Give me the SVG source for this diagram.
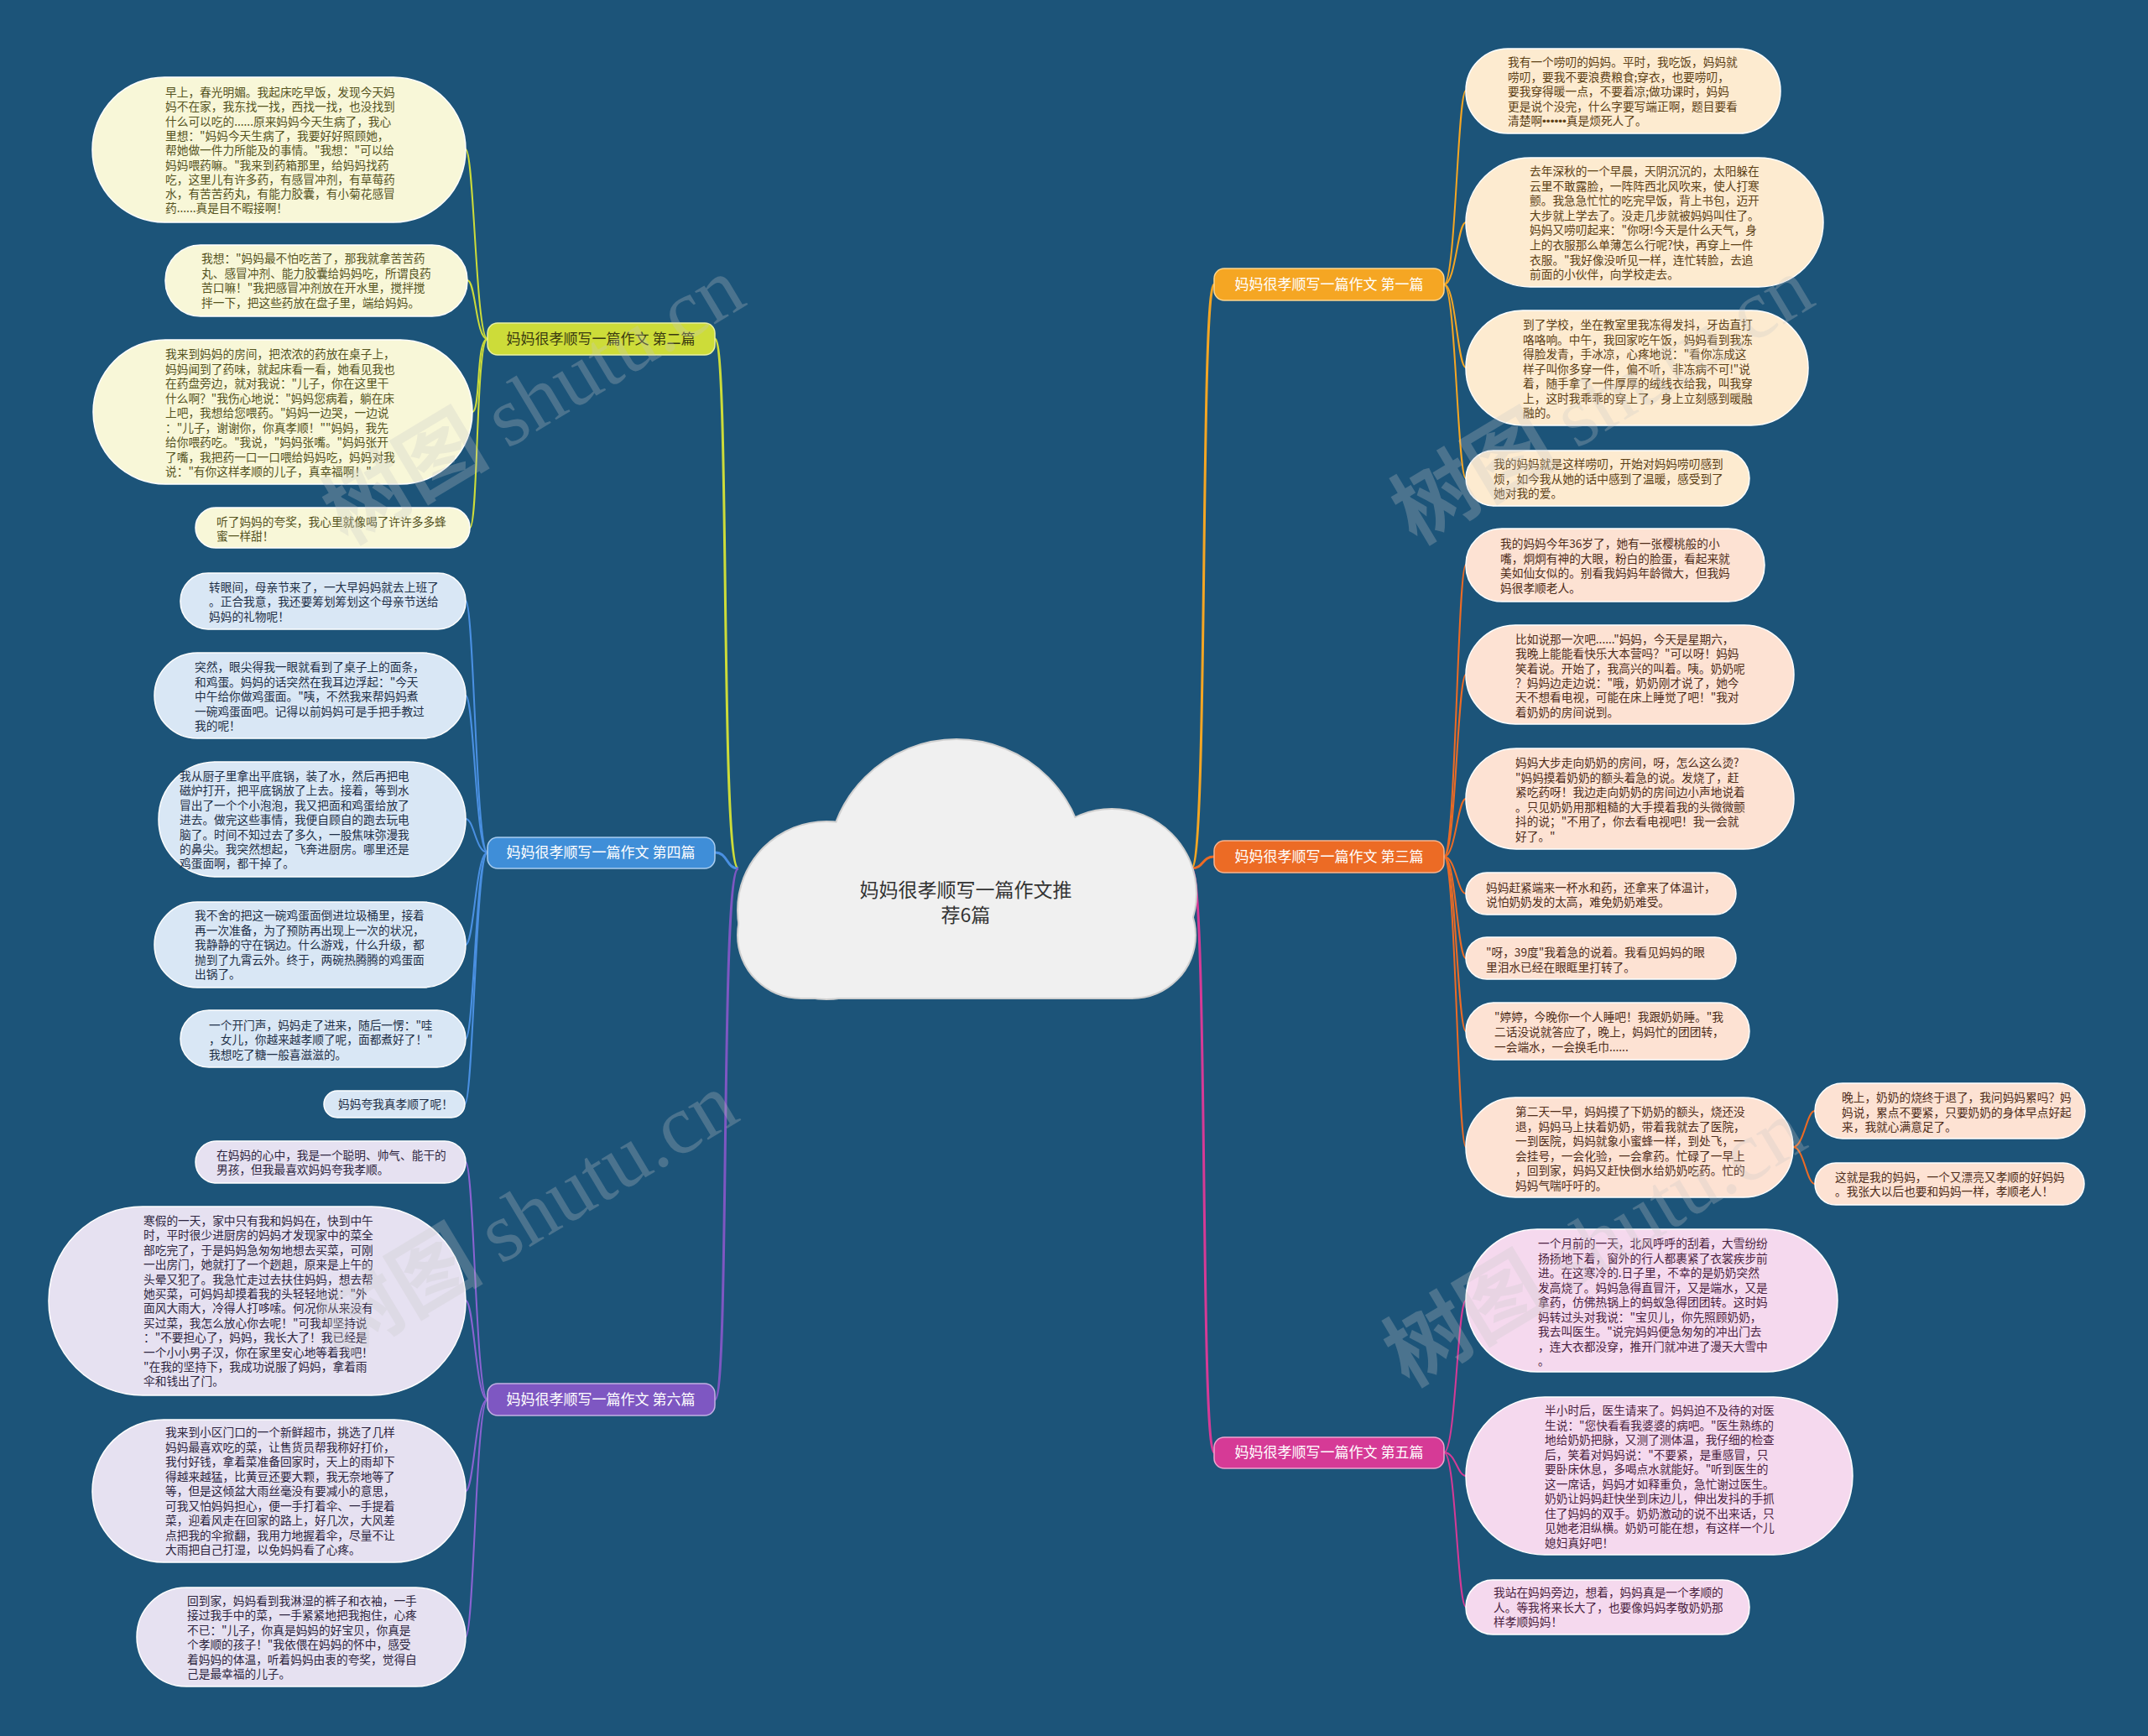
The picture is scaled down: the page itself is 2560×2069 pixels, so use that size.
<svg xmlns="http://www.w3.org/2000/svg" width="2560" height="2069" viewBox="0 0 2560 2069">
<style>
.t{font-family:"Noto Sans CJK SC","Noto Sans",sans-serif;font-size:13.7px}
.br{font-family:"Noto Sans CJK SC","Noto Sans",sans-serif;font-size:17px;fill:#fff;text-anchor:middle}
.lf{stroke:#ffffff;stroke-width:1.5}
.y{fill:#f8f7d8}.ty{fill:#55531e}
.b{fill:#d9e7f5}.tb{fill:#1e2f47}
.p{fill:#e6e1f1}.tp{fill:#2d2540}
.o{fill:#fdebd0}.to{fill:#5c4015}
.r{fill:#fde2d3}.tr{fill:#4f2d1a}
.m{fill:#f5d9ee}.tm{fill:#4a1f40}
.c{fill:none;stroke-width:2}
.cb{fill:none;stroke-width:3}
.wm{fill:#c8c8c8;opacity:0.27;font-size:100px}
</style>
<defs>
<g id="cloudShape">
<circle cx="1140" cy="1035" r="153"/>
<circle cx="985" cy="1085" r="105"/>
<circle cx="1325" cy="1065" r="100"/>
<rect x="880" y="1040" width="544" height="149" rx="75"/>
</g>
</defs>
<rect width="2560" height="2069" fill="#1c5479"/>

<g id="connectors">
<path class="cb" stroke="#cddc39" d="M880 1035 C858 1035 870 404 852 404"/>
<path class="cb" stroke="#4a90e2" d="M880 1035 C865 1035 868 1016 852 1016"/>
<path class="cb" stroke="#7e57c2" d="M880 1035 C858 1035 870 1668 852 1668"/>
<path class="cb" stroke="#f5a623" d="M1420 1035 C1440 1035 1430 339 1447 339"/>
<path class="cb" stroke="#ec6b25" d="M1420 1035 C1435 1035 1432 1021 1447 1021"/>
<path class="cb" stroke="#d63a96" d="M1420 1035 C1440 1035 1430 1731 1447 1731"/>

<g stroke="#cddc39">
<path class="c" d="M581 404 C567 404 565 178 555 178"/>
<path class="c" d="M581 404 C567 404 567 334 557 334"/>
<path class="c" d="M581 404 C567 404 573 491 563 491"/>
<path class="c" d="M581 404 C567 404 570 629 560 629"/>
</g>
<g stroke="#4a90e2">
<path class="c" d="M581 1016 C567 1016 565 716 555 716"/>
<path class="c" d="M581 1016 C567 1016 565 829 555 829"/>
<path class="c" d="M581 1016 C567 1016 565 976 555 976"/>
<path class="c" d="M581 1016 C567 1016 565 1126 555 1126"/>
<path class="c" d="M581 1016 C567 1016 565 1238 555 1238"/>
<path class="c" d="M581 1016 C567 1016 564 1316 554 1316"/>
</g>
<g stroke="#8a63d2">
<path class="c" d="M581 1668 C567 1668 565 1385 555 1385"/>
<path class="c" d="M581 1668 C567 1668 565 1550 555 1550"/>
<path class="c" d="M581 1668 C567 1668 565 1777 555 1777"/>
<path class="c" d="M581 1668 C567 1668 565 1951 555 1951"/>
</g>
<g stroke="#f5a623">
<path class="c" d="M1721 339 C1735 339 1737 108 1747 108"/>
<path class="c" d="M1721 339 C1735 339 1737 265 1747 265"/>
<path class="c" d="M1721 339 C1735 339 1737 438 1747 438"/>
<path class="c" d="M1721 339 C1735 339 1737 570 1747 570"/>
</g>
<g stroke="#ec6b25">
<path class="c" d="M1721 1021 C1735 1021 1737 673 1747 673"/>
<path class="c" d="M1721 1021 C1735 1021 1737 804 1747 804"/>
<path class="c" d="M1721 1021 C1735 1021 1737 952 1747 952"/>
<path class="c" d="M1721 1021 C1735 1021 1737 1065 1747 1065"/>
<path class="c" d="M1721 1021 C1735 1021 1737 1142 1747 1142"/>
<path class="c" d="M1721 1021 C1735 1021 1737 1229 1747 1229"/>
<path class="c" d="M1721 1021 C1735 1021 1737 1367 1747 1367"/>
<path class="c" d="M2137 1367 C2150 1367 2153 1324 2163 1324"/>
<path class="c" d="M2137 1367 C2150 1367 2153 1411 2163 1411"/>
</g>
<g stroke="#d63a96">
<path class="c" d="M1721 1731 C1735 1731 1737 1550 1747 1550"/>
<path class="c" d="M1721 1731 C1735 1731 1737 1759 1747 1759"/>
<path class="c" d="M1721 1731 C1735 1731 1737 1915 1747 1915"/>
</g>
</g>

<g id="root">
<use href="#cloudShape" fill="#f0f0f0" stroke="#d0d0d0" stroke-width="4"/>
<use href="#cloudShape" fill="#f0f0f0"/>
<text font-family="Noto Sans CJK SC, sans-serif" font-size="23" fill="#333" text-anchor="middle"><tspan x="1151" y="1069">妈妈很孝顺写一篇作文推</tspan><tspan x="1151" y="1099">荐6篇</tspan></text>
</g>

<g id="branch-2"><rect x="581" y="385" width="271" height="38" rx="12" fill="#cddc39" stroke="#e8f0a0" stroke-width="1.5"/><text class="br" x="716" y="410" style="fill:#3a3a10">妈妈很孝顺写一篇作文 第二篇</text></g>
<g id="branch-4"><rect x="581" y="998" width="271" height="37" rx="12" fill="#3f8ed8" stroke="#a9cdf0" stroke-width="1.5"/><text class="br" x="716" y="1022">妈妈很孝顺写一篇作文 第四篇</text></g>
<g id="branch-6"><rect x="581" y="1649" width="271" height="38" rx="12" fill="#7e57c2" stroke="#c2b0e4" stroke-width="1.5"/><text class="br" x="716" y="1674">妈妈很孝顺写一篇作文 第六篇</text></g>
<g id="branch-1"><rect x="1447" y="320" width="274" height="38" rx="12" fill="#f5a623" stroke="#fbd58f" stroke-width="1.5"/><text class="br" x="1584" y="345">妈妈很孝顺写一篇作文 第一篇</text></g>
<g id="branch-3"><rect x="1447" y="1002" width="274" height="38" rx="12" fill="#ec6b25" stroke="#f7b48f" stroke-width="1.5"/><text class="br" x="1584" y="1027">妈妈很孝顺写一篇作文 第三篇</text></g>
<g id="branch-5"><rect x="1447" y="1713" width="274" height="37" rx="12" fill="#d63a96" stroke="#eea4cf" stroke-width="1.5"/><text class="br" x="1584" y="1737">妈妈很孝顺写一篇作文 第五篇</text></g>

<g id="n2-1"><rect class="lf y" x="110" y="92" width="445" height="173" rx="86"/><text class="t ty"><tspan x="197" y="115">早上，春光明媚。我起床吃早饭，发现今天妈</tspan><tspan x="197" dy="17.3">妈不在家，我东找一找，西找一找，也没找到</tspan><tspan x="197" dy="17.3">什么可以吃的......原来妈妈今天生病了，我心</tspan><tspan x="197" dy="17.3">里想："妈妈今天生病了，我要好好照顾她，</tspan><tspan x="197" dy="17.3">帮她做一件力所能及的事情。"我想："可以给</tspan><tspan x="197" dy="17.3">妈妈喂药嘛。"我来到药箱那里，给妈妈找药</tspan><tspan x="197" dy="17.3">吃，这里儿有许多药，有感冒冲剂，有草莓药</tspan><tspan x="197" dy="17.3">水，有苦苦药丸，有能力胶囊，有小菊花感冒</tspan><tspan x="197" dy="17.3">药......真是目不暇接啊！</tspan></text></g>
<g id="n2-2"><rect class="lf y" x="197" y="292" width="360" height="85" rx="42"/><text class="t ty"><tspan x="240" y="313">我想："妈妈最不怕吃苦了，那我就拿苦苦药</tspan><tspan x="240" dy="17.6">丸、感冒冲剂、能力胶囊给妈妈吃，所谓良药</tspan><tspan x="240" dy="17.6">苦口嘛！"我把感冒冲剂放在开水里，搅拌搅</tspan><tspan x="240" dy="17.6">拌一下，把这些药放在盘子里，端给妈妈。</tspan></text></g>
<g id="n2-3"><rect class="lf y" x="111" y="405" width="452" height="172" rx="86"/><text class="t ty"><tspan x="197" y="427">我来到妈妈的房间，把浓浓的药放在桌子上，</tspan><tspan x="197" dy="17.5">妈妈闻到了药味，就起床看一看，她看见我也</tspan><tspan x="197" dy="17.5">在药盘旁边，就对我说："儿子，你在这里干</tspan><tspan x="197" dy="17.5">什么啊？"我伤心地说："妈妈您病着，躺在床</tspan><tspan x="197" dy="17.5">上吧，我想给您喂药。"妈妈一边哭，一边说</tspan><tspan x="197" dy="17.5">："儿子，谢谢你，你真孝顺！""妈妈，我先</tspan><tspan x="197" dy="17.5">给你喂药吃。"我说，"妈妈张嘴。"妈妈张开</tspan><tspan x="197" dy="17.5">了嘴，我把药一口一口喂给妈妈吃，妈妈对我</tspan><tspan x="197" dy="17.5">说："有你这样孝顺的儿子，真幸福啊！"</tspan></text></g>
<g id="n2-4"><rect class="lf y" x="233" y="605" width="327" height="48" rx="24"/><text class="t ty"><tspan x="258" y="627">听了妈妈的夸奖，我心里就像喝了许许多多蜂</tspan><tspan x="258" dy="16.7">蜜一样甜！</tspan></text></g>

<g id="n4-1"><rect class="lf b" x="215" y="683" width="340" height="67" rx="33"/><text class="t tb"><tspan x="249" y="705">转眼间，母亲节来了，一大早妈妈就去上班了</tspan><tspan x="249" dy="17.4">。正合我意，我还要筹划筹划这个母亲节送给</tspan><tspan x="249" dy="17.4">妈妈的礼物呢！</tspan></text></g>
<g id="n4-2"><rect class="lf b" x="184" y="778" width="371" height="102" rx="51"/><text class="t tb"><tspan x="232" y="800">突然，眼尖得我一眼就看到了桌子上的面条，</tspan><tspan x="232" dy="17.5">和鸡蛋。妈妈的话突然在我耳边浮起："今天</tspan><tspan x="232" dy="17.5">中午给你做鸡蛋面。"咦，不然我来帮妈妈煮</tspan><tspan x="232" dy="17.5">一碗鸡蛋面吧。记得以前妈妈可是手把手教过</tspan><tspan x="232" dy="17.5">我的呢！</tspan></text></g>
<g id="n4-3"><rect class="lf b" x="189" y="908" width="366" height="137" rx="68"/><text class="t tb"><tspan x="214" y="930">我从厨子里拿出平底锅，装了水，然后再把电</tspan><tspan x="214" dy="17.4">磁炉打开，把平底锅放了上去。接着，等到水</tspan><tspan x="214" dy="17.4">冒出了一个个小泡泡，我又把面和鸡蛋给放了</tspan><tspan x="214" dy="17.4">进去。做完这些事情，我便自顾自的跑去玩电</tspan><tspan x="214" dy="17.4">脑了。时间不知过去了多久，一股焦味弥漫我</tspan><tspan x="214" dy="17.4">的鼻尖。我突然想起，飞奔进厨房。哪里还是</tspan><tspan x="214" dy="17.4">鸡蛋面啊，都干掉了。</tspan></text></g>
<g id="n4-4"><rect class="lf b" x="184" y="1075" width="371" height="102" rx="51"/><text class="t tb"><tspan x="232" y="1096">我不舍的把这一碗鸡蛋面倒进垃圾桶里，接着</tspan><tspan x="232" dy="17.5">再一次准备，为了预防再出现上一次的状况，</tspan><tspan x="232" dy="17.5">我静静的守在锅边。什么游戏，什么升级，都</tspan><tspan x="232" dy="17.5">抛到了九霄云外。终于，两碗热腾腾的鸡蛋面</tspan><tspan x="232" dy="17.5">出锅了。</tspan></text></g>
<g id="n4-5"><rect class="lf b" x="215" y="1204" width="340" height="68" rx="34"/><text class="t tb"><tspan x="249" y="1227">一个开门声，妈妈走了进来，随后一愣："哇</tspan><tspan x="249" dy="17.4">，女儿，你越来越孝顺了呢，面都煮好了！"</tspan><tspan x="249" dy="17.4">我想吃了糖一般喜滋滋的。</tspan></text></g>
<g id="n4-6"><rect class="lf b" x="386" y="1300" width="168" height="32" rx="16"/><text class="t tb"><tspan x="403" y="1321">妈妈夸我真孝顺了呢！</tspan></text></g>

<g id="n6-1"><rect class="lf p" x="233" y="1360" width="322" height="50" rx="25"/><text class="t tp"><tspan x="258" y="1382">在妈妈的心中，我是一个聪明、帅气、能干的</tspan><tspan x="258" dy="17.3">男孩，但我最喜欢妈妈夸我孝顺。</tspan></text></g>
<g id="n6-2"><rect class="lf p" x="58" y="1438" width="497" height="225" rx="112"/><text class="t tp"><tspan x="171" y="1460">寒假的一天，家中只有我和妈妈在，快到中午</tspan><tspan x="171" dy="17.4">时，平时很少进厨房的妈妈才发现家中的菜全</tspan><tspan x="171" dy="17.4">部吃完了，于是妈妈急匆匆地想去买菜，可刚</tspan><tspan x="171" dy="17.4">一出房门，她就打了一个趔趄，原来是上午的</tspan><tspan x="171" dy="17.4">头晕又犯了。我急忙走过去扶住妈妈，想去帮</tspan><tspan x="171" dy="17.4">她买菜，可妈妈却摸着我的头轻轻地说："外</tspan><tspan x="171" dy="17.4">面风大雨大，冷得人打哆嗦。何况你从来没有</tspan><tspan x="171" dy="17.4">买过菜，我怎么放心你去呢！"可我却坚持说</tspan><tspan x="171" dy="17.4">："不要担心了，妈妈，我长大了！我已经是</tspan><tspan x="171" dy="17.4">一个小小男子汉，你在家里安心地等着我吧！</tspan><tspan x="171" dy="17.4">"在我的坚持下，我成功说服了妈妈，拿着雨</tspan><tspan x="171" dy="17.4">伞和钱出了门。</tspan></text></g>
<g id="n6-3"><rect class="lf p" x="110" y="1692" width="445" height="170" rx="85"/><text class="t tp"><tspan x="197" y="1712">我来到小区门口的一个新鲜超市，挑选了几样</tspan><tspan x="197" dy="17.5">妈妈最喜欢吃的菜，让售货员帮我称好打价，</tspan><tspan x="197" dy="17.5">我付好钱，拿着菜准备回家时，天上的雨却下</tspan><tspan x="197" dy="17.5">得越来越猛，比黄豆还要大颗，我无奈地等了</tspan><tspan x="197" dy="17.5">等，但是这倾盆大雨丝毫没有要减小的意思，</tspan><tspan x="197" dy="17.5">可我又怕妈妈担心，便一手打着伞、一手提着</tspan><tspan x="197" dy="17.5">菜，迎着风走在回家的路上，好几次，大风差</tspan><tspan x="197" dy="17.5">点把我的伞掀翻，我用力地握着伞，尽量不让</tspan><tspan x="197" dy="17.5">大雨把自己打湿，以免妈妈看了心疼。</tspan></text></g>
<g id="n6-4"><rect class="lf p" x="163" y="1892" width="392" height="118" rx="59"/><text class="t tp"><tspan x="223" y="1913">回到家，妈妈看到我淋湿的裤子和衣袖，一手</tspan><tspan x="223" dy="17.4">接过我手中的菜，一手紧紧地把我抱住，心疼</tspan><tspan x="223" dy="17.4">不已："儿子，你真是妈妈的好宝贝，你真是</tspan><tspan x="223" dy="17.4">个孝顺的孩子！"我依偎在妈妈的怀中，感受</tspan><tspan x="223" dy="17.4">着妈妈的体温，听着妈妈由衷的夸奖，觉得自</tspan><tspan x="223" dy="17.4">己是最幸福的儿子。</tspan></text></g>

<g id="n1-1"><rect class="lf o" x="1747" y="58" width="375" height="101" rx="50"/><text class="t to"><tspan x="1797" y="79">我有一个唠叨的妈妈。平时，我吃饭，妈妈就</tspan><tspan x="1797" dy="17.5">唠叨，要我不要浪费粮食;穿衣，也要唠叨，</tspan><tspan x="1797" dy="17.5">要我穿得暖一点，不要着凉;做功课时，妈妈</tspan><tspan x="1797" dy="17.5">更是说个没完，什么字要写端正啊，题目要看</tspan><tspan x="1797" dy="17.5">清楚啊<tspan font-family="Liberation Sans, sans-serif">••••••</tspan>真是烦死人了。</tspan></text></g>
<g id="n1-2"><rect class="lf o" x="1747" y="188" width="426" height="154" rx="77"/><text class="t to"><tspan x="1823" y="209">去年深秋的一个早晨，天阴沉沉的，太阳躲在</tspan><tspan x="1823" dy="17.6">云里不敢露脸，一阵阵西北风吹来，使人打寒</tspan><tspan x="1823" dy="17.6">颤。我急急忙忙的吃完早饭，背上书包，迈开</tspan><tspan x="1823" dy="17.6">大步就上学去了。没走几步就被妈妈叫住了。</tspan><tspan x="1823" dy="17.6">妈妈又唠叨起来："你呀!今天是什么天气，身</tspan><tspan x="1823" dy="17.6">上的衣服那么单薄怎么行呢?快，再穿上一件</tspan><tspan x="1823" dy="17.6">衣服。"我好像没听见一样，连忙转脸，去追</tspan><tspan x="1823" dy="17.6">前面的小伙伴，向学校走去。</tspan></text></g>
<g id="n1-3"><rect class="lf o" x="1747" y="370" width="408" height="137" rx="68"/><text class="t to"><tspan x="1815" y="392">到了学校，坐在教室里我冻得发抖，牙齿直打</tspan><tspan x="1815" dy="17.5">咯咯响。中午，我回家吃午饭，妈妈看到我冻</tspan><tspan x="1815" dy="17.5">得脸发青，手冰凉，心疼地说："看你冻成这</tspan><tspan x="1815" dy="17.5">样子叫你多穿一件，偏不听，非冻病不可!"说</tspan><tspan x="1815" dy="17.5">着，随手拿了一件厚厚的绒线衣给我，叫我穿</tspan><tspan x="1815" dy="17.5">上，这时我乖乖的穿上了，身上立刻感到暖融</tspan><tspan x="1815" dy="17.5">融的。</tspan></text></g>
<g id="n1-4"><rect class="lf o" x="1747" y="537" width="338" height="66" rx="33"/><text class="t to"><tspan x="1780" y="558">我的妈妈就是这样唠叨，开始对妈妈唠叨感到</tspan><tspan x="1780" dy="17.5">烦，如今我从她的话中感到了温暖，感受到了</tspan><tspan x="1780" dy="17.5">她对我的爱。</tspan></text></g>

<g id="n3-1"><rect class="lf r" x="1747" y="630" width="356" height="87" rx="43"/><text class="t tr"><tspan x="1788" y="653">我的妈妈今年36岁了，她有一张樱桃般的小</tspan><tspan x="1788" dy="17.5">嘴，炯炯有神的大眼，粉白的脸蛋，看起来就</tspan><tspan x="1788" dy="17.5">美如仙女似的。别看我妈妈年龄微大，但我妈</tspan><tspan x="1788" dy="17.5">妈很孝顺老人。</tspan></text></g>
<g id="n3-2"><rect class="lf r" x="1747" y="745" width="391" height="118" rx="59"/><text class="t tr"><tspan x="1806" y="767">比如说那一次吧......"妈妈，今天是星期六，</tspan><tspan x="1806" dy="17.3">我晚上能能看快乐大本营吗？"可以呀！妈妈</tspan><tspan x="1806" dy="17.3">笑着说。开始了，我高兴的叫着。咦。奶奶呢</tspan><tspan x="1806" dy="17.3">？妈妈边走边说："哦，奶奶刚才说了，她今</tspan><tspan x="1806" dy="17.3">天不想看电视，可能在床上睡觉了吧！"我对</tspan><tspan x="1806" dy="17.3">着奶奶的房间说到。</tspan></text></g>
<g id="n3-3"><rect class="lf r" x="1747" y="892" width="391" height="120" rx="60"/><text class="t tr"><tspan x="1806" y="914">妈妈大步走向奶奶的房间，呀，怎么这么烫?</tspan><tspan x="1806" dy="17.5">"妈妈摸着奶奶的额头着急的说。发烧了，赶</tspan><tspan x="1806" dy="17.5">紧吃药呀！我边走向奶奶的房间边小声地说着</tspan><tspan x="1806" dy="17.5">。只见奶奶用那粗糙的大手摸着我的头微微颤</tspan><tspan x="1806" dy="17.5">抖的说；"不用了，你去看电视吧！我一会就</tspan><tspan x="1806" dy="17.5">好了。"</tspan></text></g>
<g id="n3-4"><rect class="lf r" x="1747" y="1040" width="322" height="50" rx="25"/><text class="t tr"><tspan x="1771" y="1063">妈妈赶紧端来一杯水和药，还拿来了体温计，</tspan><tspan x="1771" dy="16.7">说怕奶奶发的太高，难免奶奶难受。</tspan></text></g>
<g id="n3-5"><rect class="lf r" x="1747" y="1117" width="322" height="50" rx="25"/><text class="t tr"><tspan x="1771" y="1140">"呀，39度"我着急的说着。我看见妈妈的眼</tspan><tspan x="1771" dy="17.6">里泪水已经在眼眶里打转了。</tspan></text></g>
<g id="n3-6"><rect class="lf r" x="1747" y="1195" width="338" height="68" rx="34"/><text class="t tr"><tspan x="1781" y="1217">"婷婷，今晚你一个人睡吧！我跟奶奶睡。"我</tspan><tspan x="1781" dy="18">二话没说就答应了，晚上，妈妈忙的团团转，</tspan><tspan x="1781" dy="18">一会端水，一会换毛巾......</tspan></text></g>
<g id="n3-7"><rect class="lf r" x="1747" y="1308" width="390" height="119" rx="59"/><text class="t tr"><tspan x="1806" y="1330">第二天一早，妈妈摸了下奶奶的额头，烧还没</tspan><tspan x="1806" dy="17.6">退，妈妈马上扶着奶奶，带着我就去了医院，</tspan><tspan x="1806" dy="17.6">一到医院，妈妈就象小蜜蜂一样，到处飞，一</tspan><tspan x="1806" dy="17.6">会挂号，一会化验，一会拿药。忙碌了一早上</tspan><tspan x="1806" dy="17.6">，回到家，妈妈又赶快倒水给奶奶吃药。忙的</tspan><tspan x="1806" dy="17.6">妈妈气喘吁吁的。</tspan></text></g>
<g id="n3-7-1"><rect class="lf r" x="2163" y="1291" width="322" height="66" rx="33"/><text class="t tr"><tspan x="2195" y="1313">晚上，奶奶的烧终于退了，我问妈妈累吗？妈</tspan><tspan x="2195" dy="17.5">妈说，累点不要紧，只要奶奶的身体早点好起</tspan><tspan x="2195" dy="17.5">来，我就心满意足了。</tspan></text></g>
<g id="n3-7-2"><rect class="lf r" x="2163" y="1386" width="321" height="50" rx="25"/><text class="t tr"><tspan x="2187" y="1408">这就是我的妈妈，一个又漂亮又孝顺的好妈妈</tspan><tspan x="2187" dy="17.4">。我张大以后也要和妈妈一样，孝顺老人！</tspan></text></g>

<g id="n5-1"><rect class="lf m" x="1747" y="1465" width="443" height="170" rx="85"/><text class="t tm"><tspan x="1833" y="1487">一个月前的一天，北风呼呼的刮着，大雪纷纷</tspan><tspan x="1833" dy="17.5">扬扬地下着，窗外的行人都裹紧了衣裳疾步前</tspan><tspan x="1833" dy="17.5">进。在这寒冷的.日子里，不幸的是奶奶突然</tspan><tspan x="1833" dy="17.5">发高烧了。妈妈急得直冒汗，又是端水，又是</tspan><tspan x="1833" dy="17.5">拿药，仿佛热锅上的蚂蚁急得团团转。这时妈</tspan><tspan x="1833" dy="17.5">妈转过头对我说："宝贝儿，你先照顾奶奶，</tspan><tspan x="1833" dy="17.5">我去叫医生。"说完妈妈便急匆匆的冲出门去</tspan><tspan x="1833" dy="17.5">，连大衣都没穿，推开门就冲进了漫天大雪中</tspan><tspan x="1833" dy="17.5">。</tspan></text></g>
<g id="n5-2"><rect class="lf m" x="1747" y="1665" width="461" height="188" rx="94"/><text class="t tm"><tspan x="1841" y="1686">半小时后，医生请来了。妈妈迫不及待的对医</tspan><tspan x="1841" dy="17.5">生说："您快看看我婆婆的病吧。"医生熟练的</tspan><tspan x="1841" dy="17.5">地给奶奶把脉，又测了测体温，我仔细的检查</tspan><tspan x="1841" dy="17.5">后，笑着对妈妈说："不要紧，是重感冒，只</tspan><tspan x="1841" dy="17.5">要卧床休息，多喝点水就能好。"听到医生的</tspan><tspan x="1841" dy="17.5">这一席话，妈妈才如释重负，急忙谢过医生。</tspan><tspan x="1841" dy="17.5">奶奶让妈妈赶快坐到床边儿，伸出发抖的手抓</tspan><tspan x="1841" dy="17.5">住了妈妈的双手。奶奶激动的说不出来话，只</tspan><tspan x="1841" dy="17.5">见她老泪纵横。奶奶可能在想，有这样一个儿</tspan><tspan x="1841" dy="17.5">媳妇真好吧！</tspan></text></g>
<g id="n5-3"><rect class="lf m" x="1747" y="1883" width="338" height="65" rx="32"/><text class="t tm"><tspan x="1780" y="1903">我站在妈妈旁边，想着，妈妈真是一个孝顺的</tspan><tspan x="1780" dy="17.5">人。等我将来长大了，也要像妈妈孝敬奶奶那</tspan><tspan x="1780" dy="17.5">样孝顺妈妈！</tspan></text></g>

<g id="watermark">
<text class="wm" transform="translate(653 506) rotate(-31)" text-anchor="middle"><tspan font-family="Noto Sans CJK SC, sans-serif" font-weight="bold">树图 </tspan><tspan font-family="Liberation Serif, serif">shutu.cn</tspan></text>
<text class="wm" transform="translate(645 1478) rotate(-31)" text-anchor="middle"><tspan font-family="Noto Sans CJK SC, sans-serif" font-weight="bold">树图 </tspan><tspan font-family="Liberation Serif, serif">shutu.cn</tspan></text>
<text class="wm" transform="translate(1927 506) rotate(-31)" text-anchor="middle"><tspan font-family="Noto Sans CJK SC, sans-serif" font-weight="bold">树图 </tspan><tspan font-family="Liberation Serif, serif">shutu.cn</tspan></text>
<text class="wm" transform="translate(1918 1510) rotate(-31)" text-anchor="middle"><tspan font-family="Noto Sans CJK SC, sans-serif" font-weight="bold">树图 </tspan><tspan font-family="Liberation Serif, serif">shutu.cn</tspan></text>
</g>
</svg>
